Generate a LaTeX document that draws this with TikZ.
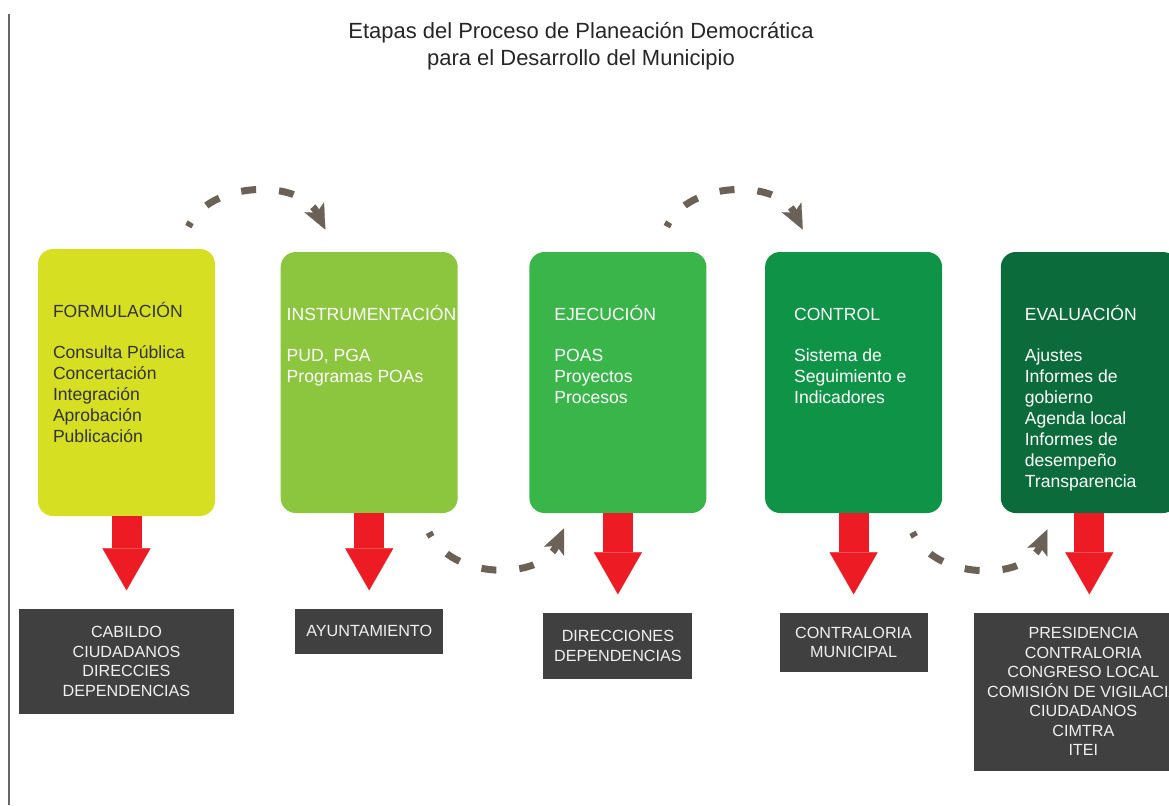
\documentclass[tikz,border=0pt]{standalone}
\usepackage{fontspec}
\setmainfont{Liberation Sans}
\usetikzlibrary{arrows.meta,positioning}

\definecolor{formul}{HTML}{D7DF23}
\definecolor{instru}{HTML}{8CC63F}
\definecolor{ejecu}{HTML}{39B54A}
\definecolor{contr}{HTML}{0F9447}
\definecolor{evalu}{HTML}{0B6B3A}
\definecolor{flecha}{HTML}{ED1C24}
\definecolor{oscuro}{HTML}{404040}
\definecolor{trazo}{HTML}{6B6157}

\begin{document}
\begin{tikzpicture}[
    stage/.style={rounded corners=0.3cm,minimum width=3.54cm,minimum height=5.22cm,inner sep=0pt},
    stagetext/.style={anchor=north west,align=left,inner sep=0pt,font=\fontsize{10}{12}\selectfont,text=white},
    actor/.style={fill=oscuro,text=white!94!black,align=center,inner sep=0pt,font=\fontsize{9.2}{11.1}\selectfont},
    downarrow/.style={draw=flecha,line width=0.6cm,-{Triangle[width=0.96cm,length=0.84cm,line width=0.1pt]},shorten >=0.36cm},
    hop/.style={draw=trazo,line width=0.14cm,dash pattern=on 0.3cm off 0.46cm,dash phase=0.2cm,-{Stealth[length=0.5cm,width=0.44cm,inset=0.12cm,line width=0.1pt]}}
  ]
  \useasboundingbox (0,0) rectangle (23.38,-16.1);
  \clip (0,0) rectangle (23.38,-16.1);
  \draw[black!60,line width=0.8pt] (0.18,-0.28) -- (0.18,-16.1);

  \node[align=center,text=black!85,font=\fontsize{12.5}{15.4}\selectfont] (title) at (11.62,-0.93)
    {Etapas del Proceso de Planeación Democrática\\para el Desarrollo del Municipio};

  % etapas
  \node[stage,fill=formul,minimum height=5.34cm] (f1) at (2.53,-7.65) {};
  \node[stage,fill=instru,right=1.3cm of f1] (f2) {};
  \node[stage,fill=ejecu,right=1.42cm of f2] (f3) {};
  \node[stage,fill=contr,right=1.16cm of f3] (f4) {};
  \node[stage,fill=evalu,right=1.16cm of f4] (f5) {};

  \node[stagetext,text=black!80] (t1) at ([shift={(0.3,-1.01)}]f1.north west)
    {\rule{0pt}{10pt}FORMULACIÓN\\[11.3pt]Consulta Pública\\Concertación\\Integración\\Aprobación\\Publicación};
  \node[stagetext] (t2) at ([shift={(0.12,-1.01)}]f2.north west)
    {\rule{0pt}{10pt}INSTRUMENTACIÓN\\[11.3pt]PUD, PGA\\Programas POAs};
  \node[stagetext] (t3) at ([shift={(0.5,-1.01)}]f3.north west)
    {\rule{0pt}{10pt}EJECUCIÓN\\[11.3pt]POAS\\Proyectos\\Procesos};
  \node[stagetext] (t4) at ([shift={(0.58,-1.01)}]f4.north west)
    {\rule{0pt}{10pt}CONTROL\\[11.3pt]Sistema de\\Seguimiento e\\Indicadores};
  \node[stagetext] (t5) at ([shift={(0.48,-1.01)}]f5.north west)
    {\rule{0pt}{10pt}EVALUACIÓN\\[11.3pt]Ajustes\\Informes de\\gobierno\\Agenda local\\Informes de\\desempeño\\Transparencia};

  % responsables
  \node[actor,minimum width=4.3cm,minimum height=2.1cm,below=1.84cm of f1] (a1)
    {CABILDO\\CIUDADANOS\\DIRECCIES\\DEPENDENCIAS};
  \node[actor,minimum width=2.96cm,minimum height=0.9cm,below=1.9cm of f2] (a2) {AYUNTAMIENTO};
  \node[actor,minimum width=2.98cm,minimum height=1.32cm,below=1.98cm of f3] (a3)
    {DIRECCIONES\\DEPENDENCIAS};
  \node[actor,minimum width=2.96cm,minimum height=1.18cm,below=1.98cm of f4] (a4)
    {CONTRALORIA\\MUNICIPAL};
  \node[actor,minimum width=4.36cm,minimum height=3.16cm,below=1.98cm of f5,xshift=-0.12cm] (a5)
    {PRESIDENCIA\\CONTRALORIA\\CONGRESO LOCAL\\COMISIÓN DE VIGILACIA\\CIUDADANOS\\CIMTRA\\ITEI};

  \foreach \i in {1,...,5}
    \draw[downarrow] (f\i.south) -- (f\i.south |- a\i.north);

  % saltos entre etapas
  \draw[hop] ([shift={(-0.54,0.44)}]f1.north east) .. controls +(0.44,0.94) and +(-0.5,1.0) .. ([shift={(0.9,0.44)}]f2.north west);
  \draw[hop] ([shift={(-0.8,0.5)}]f3.north east) .. controls +(0.44,0.94) and +(-0.5,1.0) .. ([shift={(0.76,0.44)}]f4.north west);
  \draw[hop] ([shift={(-0.58,-0.38)}]f2.south east) .. controls +(0.44,-0.96) and +(-0.46,-1.04) .. ([shift={(0.7,-0.3)}]f3.south west);
  \draw[hop] ([shift={(-0.6,-0.38)}]f4.south east) .. controls +(0.44,-0.96) and +(-0.46,-1.04) .. ([shift={(0.94,-0.32)}]f5.south west);
\end{tikzpicture}
\end{document}
